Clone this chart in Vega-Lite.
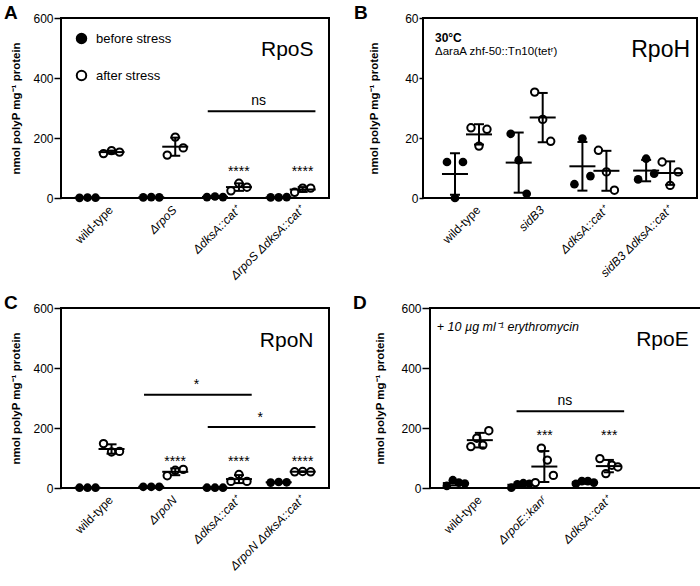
{
"$schema": "https://vega.github.io/schema/vega-lite/v6.json",
"padding": {"left": 3, "top": 2, "right": 0, "bottom": 0},
"datasets": {
"A": [
{"g":"wild-type","c":"before","r":1,"v":0.5},{"g":"wild-type","c":"before","r":2,"v":1.5},{"g":"wild-type","c":"before","r":3,"v":1},
{"g":"wild-type","c":"after","r":1,"v":148},{"g":"wild-type","c":"after","r":2,"v":158},{"g":"wild-type","c":"after","r":3,"v":153},
{"g":"ΔrpoS","c":"before","r":1,"v":2},{"g":"ΔrpoS","c":"before","r":2,"v":3},{"g":"ΔrpoS","c":"before","r":3,"v":2},
{"g":"ΔrpoS","c":"after","r":1,"v":143},{"g":"ΔrpoS","c":"after","r":2,"v":203},{"g":"ΔrpoS","c":"after","r":3,"v":167},
{"g":"ΔdksA::cat⁺","c":"before","r":1,"v":3},{"g":"ΔdksA::cat⁺","c":"before","r":2,"v":5},{"g":"ΔdksA::cat⁺","c":"before","r":3,"v":3},
{"g":"ΔdksA::cat⁺","c":"after","r":1,"v":24},{"g":"ΔdksA::cat⁺","c":"after","r":2,"v":49},{"g":"ΔdksA::cat⁺","c":"after","r":3,"v":36},
{"g":"ΔrpoS ΔdksA::cat⁺","c":"before","r":1,"v":2},{"g":"ΔrpoS ΔdksA::cat⁺","c":"before","r":2,"v":2},{"g":"ΔrpoS ΔdksA::cat⁺","c":"before","r":3,"v":3},
{"g":"ΔrpoS ΔdksA::cat⁺","c":"after","r":1,"v":19},{"g":"ΔrpoS ΔdksA::cat⁺","c":"after","r":2,"v":33},{"g":"ΔrpoS ΔdksA::cat⁺","c":"after","r":3,"v":33}
],
"B": [
{"g":"wild-type","c":"before","r":1,"v":12},{"g":"wild-type","c":"before","r":2,"v":0},{"g":"wild-type","c":"before","r":3,"v":12},
{"g":"wild-type","c":"after","r":1,"v":23.4},{"g":"wild-type","c":"after","r":2,"v":17.3},{"g":"wild-type","c":"after","r":3,"v":22.9},
{"g":"sidB3","c":"before","r":1,"v":21.4},{"g":"sidB3","c":"before","r":2,"v":12.6},{"g":"sidB3","c":"before","r":3,"v":1.4},
{"g":"sidB3","c":"after","r":1,"v":35.3},{"g":"sidB3","c":"after","r":2,"v":26.2},{"g":"sidB3","c":"after","r":3,"v":18.9},
{"g":"ΔdksA::cat⁺","c":"before","r":1,"v":4.6},{"g":"ΔdksA::cat⁺","c":"before","r":2,"v":19.8},{"g":"ΔdksA::cat⁺","c":"before","r":3,"v":7.3},
{"g":"ΔdksA::cat⁺","c":"after","r":1,"v":15.9},{"g":"ΔdksA::cat⁺","c":"after","r":2,"v":8.7},{"g":"ΔdksA::cat⁺","c":"after","r":3,"v":2.6},
{"g":"sidB3 ΔdksA::cat⁺","c":"before","r":1,"v":6.2},{"g":"sidB3 ΔdksA::cat⁺","c":"before","r":2,"v":13.1},{"g":"sidB3 ΔdksA::cat⁺","c":"before","r":3,"v":8.1},
{"g":"sidB3 ΔdksA::cat⁺","c":"after","r":1,"v":12},{"g":"sidB3 ΔdksA::cat⁺","c":"after","r":2,"v":4.2},{"g":"sidB3 ΔdksA::cat⁺","c":"after","r":3,"v":8.7}
],
"C": [
{"g":"wild-type","c":"before","r":1,"v":1},{"g":"wild-type","c":"before","r":2,"v":1},{"g":"wild-type","c":"before","r":3,"v":1},
{"g":"wild-type","c":"after","r":1,"v":148},{"g":"wild-type","c":"after","r":2,"v":120},{"g":"wild-type","c":"after","r":3,"v":122},
{"g":"ΔrpoN","c":"before","r":1,"v":4},{"g":"ΔrpoN","c":"before","r":2,"v":4},{"g":"ΔrpoN","c":"before","r":3,"v":4},
{"g":"ΔrpoN","c":"after","r":1,"v":41},{"g":"ΔrpoN","c":"after","r":2,"v":59},{"g":"ΔrpoN","c":"after","r":3,"v":62},
{"g":"ΔdksA::cat⁺","c":"before","r":1,"v":1},{"g":"ΔdksA::cat⁺","c":"before","r":2,"v":1},{"g":"ΔdksA::cat⁺","c":"before","r":3,"v":1},
{"g":"ΔdksA::cat⁺","c":"after","r":1,"v":22},{"g":"ΔdksA::cat⁺","c":"after","r":2,"v":45},{"g":"ΔdksA::cat⁺","c":"after","r":3,"v":22},
{"g":"ΔrpoN ΔdksA::cat⁺","c":"before","r":1,"v":18},{"g":"ΔrpoN ΔdksA::cat⁺","c":"before","r":2,"v":20},{"g":"ΔrpoN ΔdksA::cat⁺","c":"before","r":3,"v":19},
{"g":"ΔrpoN ΔdksA::cat⁺","c":"after","r":1,"v":54},{"g":"ΔrpoN ΔdksA::cat⁺","c":"after","r":2,"v":55},{"g":"ΔrpoN ΔdksA::cat⁺","c":"after","r":3,"v":54}
],
"D": [
{"g":"wild-type","c":"before","r":1,"v":7},{"g":"wild-type","c":"before","r":2,"v":26},{"g":"wild-type","c":"before","r":3,"v":18},{"g":"wild-type","c":"before","r":4,"v":15},
{"g":"wild-type","c":"after","r":1,"v":138},{"g":"wild-type","c":"after","r":2,"v":166},{"g":"wild-type","c":"after","r":3,"v":143},{"g":"wild-type","c":"after","r":4,"v":191},
{"g":"ΔrpoE::kanʳ","c":"before","r":1,"v":1},{"g":"ΔrpoE::kanʳ","c":"before","r":2,"v":12},{"g":"ΔrpoE::kanʳ","c":"before","r":3,"v":16},{"g":"ΔrpoE::kanʳ","c":"before","r":4,"v":14},
{"g":"ΔrpoE::kanʳ","c":"after","r":1,"v":18},{"g":"ΔrpoE::kanʳ","c":"after","r":2,"v":133},{"g":"ΔrpoE::kanʳ","c":"after","r":3,"v":93},{"g":"ΔrpoE::kanʳ","c":"after","r":4,"v":42},
{"g":"ΔdksA::cat⁺","c":"before","r":1,"v":14},{"g":"ΔdksA::cat⁺","c":"before","r":2,"v":23},{"g":"ΔdksA::cat⁺","c":"before","r":3,"v":23},{"g":"ΔdksA::cat⁺","c":"before","r":4,"v":18},
{"g":"ΔdksA::cat⁺","c":"after","r":1,"v":98},{"g":"ΔdksA::cat⁺","c":"after","r":2,"v":48},{"g":"ΔdksA::cat⁺","c":"after","r":3,"v":76},{"g":"ΔdksA::cat⁺","c":"after","r":4,"v":70}
]
},
"spacing": 9,
"vconcat": [
{"spacing": 23, "hconcat": [
{
"width": 268, "height": 180,
"title": {"text": "A", "anchor": "start", "frame": "bounds", "fontSize": 19, "fontWeight": "bold", "offset": -10.5, "dx": -6},
"resolve": {"scale": {"xOffset": "independent"}},
"layer": [
{"data": {"name": "A"}, "transform": [{"filter": "datum.c == 'before'"}],
 "mark": {"type": "circle", "size": 75, "opacity": 1},
 "encoding": {
  "x": {"field": "g", "type": "nominal", "title": null, "sort": null, "scale": {"domain": ["wild-type","ΔrpoS","ΔdksA::cat⁺","ΔrpoS ΔdksA::cat⁺"], "paddingInner": 0.25, "paddingOuter": 0.228, "align": 0.5},
   "axis": {"labelAngle": -45, "ticks": false, "domain": false, "labelFontSize": 12, "labelColor": "black", "labelPadding": 6, "labelOffset": 8, "labelFontStyle": {"expr": "datum.value == 'wild-type' ? 'normal' : 'italic'"}}},
  "xOffset": {"field": "r", "type": "nominal", "scale": {"domain": [1,2,3], "range": [0, 24]}},
  "y": {"field": "v", "type": "quantitative", "title": "nmol polyP mg⁻¹ protein", "scale": {"domain": [0, 600], "nice": false},
   "axis": {"values": [0,200,400,600], "tickSize": 7, "tickWidth": 1.5, "tickColor": "black", "domain": false, "grid": false, "labelFontSize": 12, "labelColor": "black", "labelPadding": 1, "titleFontSize": 11.5, "titleFontWeight": "bold", "titleColor": "black", "titleX": -45, "titleBaseline": "middle"}},
  "fill": {"field": "c", "type": "nominal", "scale": {"domain": ["before","after"], "range": ["black","white"]},
   "legend": {"title": null, "orient": "top-left", "offset": 14, "padding": 0, "symbolType": "circle", "symbolSize": 90, "symbolStrokeColor": "black", "symbolStrokeWidth": 2, "symbolOpacity": 1, "labelFontSize": 13, "labelColor": "black", "labelOffset": 8, "rowPadding": 18, "labelExpr": "datum.label + ' stress'"}}
 }},
{"data": {"name": "A"}, "transform": [{"filter": "datum.c == 'after'"}],
 "mark": {"type": "circle", "size": 55, "opacity": 1, "stroke": "black", "strokeWidth": 2},
 "encoding": {
  "x": {"field": "g", "type": "nominal", "title": null},
  "xOffset": {"field": "r", "type": "nominal", "scale": {"domain": [1,2,3], "range": [24, 48]}},
  "y": {"field": "v", "type": "quantitative", "title": "nmol polyP mg⁻¹ protein"},
  "fill": {"field": "c", "type": "nominal"}
 }},
{"data": {"name": "A"},
 "mark": {"type": "errorbar", "extent": "stdev", "color": "black", "ticks": {"size": 10, "thickness": 2, "opacity": 1}, "rule": {"strokeWidth": 2}},
 "encoding": {
  "x": {"field": "g", "type": "nominal", "title": null},
  "xOffset": {"field": "c", "type": "nominal", "scale": {"domain": ["before","after"], "range": [0, 48]}},
  "y": {"field": "v", "type": "quantitative", "title": "nmol polyP mg⁻¹ protein"}
 }},
{"data": {"name": "A"},
 "mark": {"type": "tick", "size": 26, "thickness": 2, "color": "black", "opacity": 1},
 "encoding": {
  "x": {"field": "g", "type": "nominal", "title": null},
  "xOffset": {"field": "c", "type": "nominal", "scale": {"domain": ["before","after"], "range": [0, 48]}},
  "y": {"aggregate": "mean", "field": "v", "type": "quantitative", "title": "nmol polyP mg⁻¹ protein"}
 }},
{"data": {"values": [{"g1": "ΔdksA::cat⁺", "g2": "ΔrpoS ΔdksA::cat⁺", "y": 289}]},
 "mark": {"type": "rule", "strokeWidth": 2, "color": "black"},
 "encoding": {"x": {"field": "g1", "type": "nominal", "bandPosition": 0.1, "title": null}, "x2": {"field": "g2", "bandPosition": 1.02}, "y": {"field": "y", "type": "quantitative", "title": "nmol polyP mg⁻¹ protein"}}},
{"data": {"values": [{"g": "ΔdksA::cat⁺", "y": 325, "t": "ns"}]},
 "mark": {"type": "text", "fontSize": 14, "color": "black"},
 "encoding": {"x": {"field": "g", "type": "nominal", "bandPosition": 1.163, "title": null}, "y": {"field": "y", "type": "quantitative", "title": "nmol polyP mg⁻¹ protein"}, "text": {"field": "t"}}},
{"data": {"values": [{"g": "ΔdksA::cat⁺", "y": 88, "t": "****"}, {"g": "ΔrpoS ΔdksA::cat⁺", "y": 88, "t": "****"}]},
 "mark": {"type": "text", "fontSize": 14, "color": "black"},
 "encoding": {"x": {"field": "g", "type": "nominal", "bandPosition": 0.75, "title": null}, "y": {"field": "y", "type": "quantitative", "title": "nmol polyP mg⁻¹ protein"}, "text": {"field": "t"}}},
{"data": {"values": [{"g": "ΔrpoS ΔdksA::cat⁺", "y": 494, "t": "RpoS"}]},
 "mark": {"type": "text", "fontSize": 21, "color": "black", "align": "right"},
 "encoding": {"x": {"field": "g", "type": "nominal", "bandPosition": 0.98, "title": null}, "y": {"field": "y", "type": "quantitative", "title": "nmol polyP mg⁻¹ protein"}, "text": {"field": "t"}}}
]
},
{
"width": 274, "height": 180,
"title": {"text": "B", "anchor": "start", "frame": "bounds", "fontSize": 19, "fontWeight": "bold", "offset": -10.5, "dx": -14},
"resolve": {"scale": {"xOffset": "independent"}},
"layer": [
{"data": {"name": "B"}, "transform": [{"filter": "datum.c == 'before'"}],
 "mark": {"type": "circle", "size": 75, "opacity": 1},
 "encoding": {
  "x": {"field": "g", "type": "nominal", "title": null, "sort": null, "scale": {"domain": ["wild-type","sidB3","ΔdksA::cat⁺","sidB3 ΔdksA::cat⁺"], "paddingInner": 0.25, "paddingOuter": 0.275, "align": 0.57},
   "axis": {"labelAngle": -45, "ticks": false, "domain": false, "labelFontSize": 12, "labelColor": "black", "labelPadding": 6, "labelOffset": 8, "labelFontStyle": {"expr": "datum.value == 'wild-type' ? 'normal' : 'italic'"}}},
  "xOffset": {"field": "r", "type": "nominal", "scale": {"domain": [1,2,3], "range": [0, 24]}},
  "y": {"field": "v", "type": "quantitative", "title": "nmol polyP mg⁻¹ protein", "scale": {"domain": [0, 60], "nice": false},
   "axis": {"values": [0,20,40,60], "tickSize": 4, "tickWidth": 1.5, "tickColor": "black", "domain": false, "grid": false, "labelFontSize": 12, "labelColor": "black", "labelPadding": 1, "titleFontSize": 11.5, "titleFontWeight": "bold", "titleColor": "black", "titleX": -49, "titleBaseline": "middle"}},
  "fill": {"field": "c", "type": "nominal", "scale": {"domain": ["before","after"], "range": ["black","white"]}, "legend": null}
 }},
{"data": {"name": "B"}, "transform": [{"filter": "datum.c == 'after'"}],
 "mark": {"type": "circle", "size": 55, "opacity": 1, "stroke": "black", "strokeWidth": 2},
 "encoding": {
  "x": {"field": "g", "type": "nominal", "title": null},
  "xOffset": {"field": "r", "type": "nominal", "scale": {"domain": [1,2,3], "range": [24, 48]}},
  "y": {"field": "v", "type": "quantitative", "title": "nmol polyP mg⁻¹ protein"},
  "fill": {"field": "c", "type": "nominal"}
 }},
{"data": {"name": "B"},
 "mark": {"type": "errorbar", "extent": "stdev", "color": "black", "ticks": {"size": 10, "thickness": 2, "opacity": 1}, "rule": {"strokeWidth": 2}},
 "encoding": {
  "x": {"field": "g", "type": "nominal", "title": null},
  "xOffset": {"field": "c", "type": "nominal", "scale": {"domain": ["before","after"], "range": [0, 48]}},
  "y": {"field": "v", "type": "quantitative", "title": "nmol polyP mg⁻¹ protein"}
 }},
{"data": {"name": "B"},
 "mark": {"type": "tick", "size": 26, "thickness": 2, "color": "black", "opacity": 1},
 "encoding": {
  "x": {"field": "g", "type": "nominal", "title": null},
  "xOffset": {"field": "c", "type": "nominal", "scale": {"domain": ["before","after"], "range": [0, 48]}},
  "y": {"aggregate": "mean", "field": "v", "type": "quantitative", "title": "nmol polyP mg⁻¹ protein"}
 }},
{"data": {"values": [{"g": "sidB3 ΔdksA::cat⁺", "y": 49.3, "t": "RpoH"}]},
 "mark": {"type": "text", "fontSize": 23, "color": "black", "align": "right"},
 "encoding": {"x": {"field": "g", "type": "nominal", "bandPosition": 1.17, "title": null}, "y": {"field": "y", "type": "quantitative", "title": "nmol polyP mg⁻¹ protein"}, "text": {"field": "t"}}},
{"data": {"values": [{"g": "wild-type", "y": 53.3, "t": "30°C"}]},
 "mark": {"type": "text", "fontSize": 12, "fontWeight": "bold", "color": "black", "align": "left", "dx": -8},
 "encoding": {"x": {"field": "g", "type": "nominal", "bandPosition": 0, "title": null}, "y": {"field": "y", "type": "quantitative", "title": "nmol polyP mg⁻¹ protein"}, "text": {"field": "t"}}},
{"data": {"values": [{"g": "wild-type", "y": 48.7, "t": "ΔaraA zhf-50::Tn10(tetʳ)"}]},
 "mark": {"type": "text", "fontSize": 11.5, "color": "black", "align": "left", "dx": -8},
 "encoding": {"x": {"field": "g", "type": "nominal", "bandPosition": 0, "title": null}, "y": {"field": "y", "type": "quantitative", "title": "nmol polyP mg⁻¹ protein"}, "text": {"field": "t"}}}
]
}
]},
{"spacing": 21, "hconcat": [
{
"width": 268, "height": 180,
"title": {"text": "C", "anchor": "start", "frame": "bounds", "fontSize": 19, "fontWeight": "bold", "offset": -10.5, "dx": -6},
"resolve": {"scale": {"xOffset": "independent"}},
"layer": [
{"data": {"name": "C"}, "transform": [{"filter": "datum.c == 'before'"}],
 "mark": {"type": "circle", "size": 75, "opacity": 1},
 "encoding": {
  "x": {"field": "g", "type": "nominal", "title": null, "sort": null, "scale": {"domain": ["wild-type","ΔrpoN","ΔdksA::cat⁺","ΔrpoN ΔdksA::cat⁺"], "paddingInner": 0.25, "paddingOuter": 0.228, "align": 0.5},
   "axis": {"labelAngle": -45, "ticks": false, "domain": false, "labelFontSize": 12, "labelColor": "black", "labelPadding": 6, "labelOffset": 8, "labelFontStyle": {"expr": "datum.value == 'wild-type' ? 'normal' : 'italic'"}}},
  "xOffset": {"field": "r", "type": "nominal", "scale": {"domain": [1,2,3], "range": [0, 24]}},
  "y": {"field": "v", "type": "quantitative", "title": "nmol polyP mg⁻¹ protein", "scale": {"domain": [0, 600], "nice": false},
   "axis": {"values": [0,200,400,600], "tickSize": 7, "tickWidth": 1.5, "tickColor": "black", "domain": false, "grid": false, "labelFontSize": 12, "labelColor": "black", "labelPadding": 1, "titleFontSize": 11.5, "titleFontWeight": "bold", "titleColor": "black", "titleX": -45, "titleBaseline": "middle"}},
  "fill": {"field": "c", "type": "nominal", "scale": {"domain": ["before","after"], "range": ["black","white"]}, "legend": null}
 }},
{"data": {"name": "C"}, "transform": [{"filter": "datum.c == 'after'"}],
 "mark": {"type": "circle", "size": 55, "opacity": 1, "stroke": "black", "strokeWidth": 2},
 "encoding": {
  "x": {"field": "g", "type": "nominal", "title": null},
  "xOffset": {"field": "r", "type": "nominal", "scale": {"domain": [1,2,3], "range": [24, 48]}},
  "y": {"field": "v", "type": "quantitative", "title": "nmol polyP mg⁻¹ protein"},
  "fill": {"field": "c", "type": "nominal"}
 }},
{"data": {"name": "C"},
 "mark": {"type": "errorbar", "extent": "stdev", "color": "black", "ticks": {"size": 10, "thickness": 2, "opacity": 1}, "rule": {"strokeWidth": 2}},
 "encoding": {
  "x": {"field": "g", "type": "nominal", "title": null},
  "xOffset": {"field": "c", "type": "nominal", "scale": {"domain": ["before","after"], "range": [0, 48]}},
  "y": {"field": "v", "type": "quantitative", "title": "nmol polyP mg⁻¹ protein"}
 }},
{"data": {"name": "C"},
 "mark": {"type": "tick", "size": 26, "thickness": 2, "color": "black", "opacity": 1},
 "encoding": {
  "x": {"field": "g", "type": "nominal", "title": null},
  "xOffset": {"field": "c", "type": "nominal", "scale": {"domain": ["before","after"], "range": [0, 48]}},
  "y": {"aggregate": "mean", "field": "v", "type": "quantitative", "title": "nmol polyP mg⁻¹ protein"}
 }},
{"data": {"values": [{"g1": "ΔrpoN", "g2": "ΔdksA::cat⁺", "y": 311}, {"g1": "ΔdksA::cat⁺", "g2": "ΔrpoN ΔdksA::cat⁺", "y": 203}]},
 "mark": {"type": "rule", "strokeWidth": 2, "color": "black"},
 "encoding": {"x": {"field": "g1", "type": "nominal", "bandPosition": 0.1, "title": null}, "x2": {"field": "g2", "bandPosition": 1.02}, "y": {"field": "y", "type": "quantitative", "title": "nmol polyP mg⁻¹ protein"}}},
{"data": {"values": [{"g": "ΔrpoN", "y": 342, "t": "*"}, {"g": "ΔdksA::cat⁺", "y": 235, "t": "*"}]},
 "mark": {"type": "text", "fontSize": 14, "color": "black"},
 "encoding": {"x": {"field": "g", "type": "nominal", "bandPosition": 1.2, "title": null}, "y": {"field": "y", "type": "quantitative", "title": "nmol polyP mg⁻¹ protein"}, "text": {"field": "t"}}},
{"data": {"values": [{"g": "ΔrpoN", "y": 87, "t": "****"}, {"g": "ΔdksA::cat⁺", "y": 87, "t": "****"}, {"g": "ΔrpoN ΔdksA::cat⁺", "y": 87, "t": "****"}]},
 "mark": {"type": "text", "fontSize": 14, "color": "black"},
 "encoding": {"x": {"field": "g", "type": "nominal", "bandPosition": 0.75, "title": null}, "y": {"field": "y", "type": "quantitative", "title": "nmol polyP mg⁻¹ protein"}, "text": {"field": "t"}}},
{"data": {"values": [{"g": "ΔrpoN ΔdksA::cat⁺", "y": 489, "t": "RpoN"}]},
 "mark": {"type": "text", "fontSize": 21, "color": "black", "align": "right"},
 "encoding": {"x": {"field": "g", "type": "nominal", "bandPosition": 0.98, "title": null}, "y": {"field": "y", "type": "quantitative", "title": "nmol polyP mg⁻¹ protein"}, "text": {"field": "t"}}}
]
},
{
"width": 272, "height": 180,
"title": {"text": "D", "anchor": "start", "frame": "bounds", "fontSize": 19, "fontWeight": "bold", "offset": -10.5, "dx": -21},
"resolve": {"scale": {"xOffset": "independent"}},
"layer": [
{"data": {"name": "D"}, "transform": [{"filter": "datum.c == 'before'"}],
 "mark": {"type": "circle", "size": 75, "opacity": 1},
 "encoding": {
  "x": {"field": "g", "type": "nominal", "title": null, "sort": null, "scale": {"domain": ["wild-type","ΔrpoE::kanʳ","ΔdksA::cat⁺"," "], "paddingInner": 0.25, "paddingOuter": 0.233, "align": 0.46},
   "axis": {"labelAngle": -45, "ticks": false, "domain": false, "labelFontSize": 12, "labelColor": "black", "labelPadding": 6, "labelOffset": 8, "labelFontStyle": {"expr": "datum.value == 'wild-type' ? 'normal' : 'italic'"}}},
  "xOffset": {"field": "r", "type": "nominal", "scale": {"domain": [1,2,3,4], "range": [0, 24]}},
  "y": {"field": "v", "type": "quantitative", "title": "nmol polyP mg⁻¹ protein", "scale": {"domain": [0, 600], "nice": false},
   "axis": {"values": [0,200,400,600], "tickSize": 8, "tickWidth": 1.5, "tickColor": "black", "domain": false, "grid": false, "labelFontSize": 12, "labelColor": "black", "labelPadding": 1, "titleFontSize": 11.5, "titleFontWeight": "bold", "titleColor": "black", "titleX": -50, "titleBaseline": "middle"}},
  "fill": {"field": "c", "type": "nominal", "scale": {"domain": ["before","after"], "range": ["black","white"]}, "legend": null}
 }},
{"data": {"name": "D"}, "transform": [{"filter": "datum.c == 'after'"}],
 "mark": {"type": "circle", "size": 55, "opacity": 1, "stroke": "black", "strokeWidth": 2},
 "encoding": {
  "x": {"field": "g", "type": "nominal", "title": null},
  "xOffset": {"field": "r", "type": "nominal", "scale": {"domain": [1,2,3,4], "range": [24, 48]}},
  "y": {"field": "v", "type": "quantitative", "title": "nmol polyP mg⁻¹ protein"},
  "fill": {"field": "c", "type": "nominal"}
 }},
{"data": {"name": "D"},
 "mark": {"type": "errorbar", "extent": "stdev", "color": "black", "ticks": {"size": 10, "thickness": 2, "opacity": 1}, "rule": {"strokeWidth": 2}},
 "encoding": {
  "x": {"field": "g", "type": "nominal", "title": null},
  "xOffset": {"field": "c", "type": "nominal", "scale": {"domain": ["before","after"], "range": [0, 48]}},
  "y": {"field": "v", "type": "quantitative", "title": "nmol polyP mg⁻¹ protein"}
 }},
{"data": {"name": "D"},
 "mark": {"type": "tick", "size": 26, "thickness": 2, "color": "black", "opacity": 1},
 "encoding": {
  "x": {"field": "g", "type": "nominal", "title": null},
  "xOffset": {"field": "c", "type": "nominal", "scale": {"domain": ["before","after"], "range": [0, 48]}},
  "y": {"aggregate": "mean", "field": "v", "type": "quantitative", "title": "nmol polyP mg⁻¹ protein"}
 }},
{"data": {"values": [{"g1": "ΔrpoE::kanʳ", "g2": "ΔdksA::cat⁺", "y": 256}]},
 "mark": {"type": "rule", "strokeWidth": 2, "color": "black"},
 "encoding": {"x": {"field": "g1", "type": "nominal", "bandPosition": 0.17, "title": null}, "x2": {"field": "g2", "bandPosition": 1.06}, "y": {"field": "y", "type": "quantitative", "title": "nmol polyP mg⁻¹ protein"}}},
{"data": {"values": [{"g": "ΔrpoE::kanʳ", "y": 290, "t": "ns"}]},
 "mark": {"type": "text", "fontSize": 14, "color": "black"},
 "encoding": {"x": {"field": "g", "type": "nominal", "bandPosition": 1.167, "title": null}, "y": {"field": "y", "type": "quantitative", "title": "nmol polyP mg⁻¹ protein"}, "text": {"field": "t"}}},
{"data": {"values": [{"g": "ΔrpoE::kanʳ", "y": 173, "t": "***"}, {"g": "ΔdksA::cat⁺", "y": 173, "t": "***"}]},
 "mark": {"type": "text", "fontSize": 14, "color": "black"},
 "encoding": {"x": {"field": "g", "type": "nominal", "bandPosition": 0.75, "title": null}, "y": {"field": "y", "type": "quantitative", "title": "nmol polyP mg⁻¹ protein"}, "text": {"field": "t"}}},
{"data": {"values": [{"g": " ", "y": 493, "t": "RpoE"}]},
 "mark": {"type": "text", "fontSize": 21, "color": "black", "align": "right"},
 "encoding": {"x": {"field": "g", "type": "nominal", "bandPosition": 1.06, "title": null}, "y": {"field": "y", "type": "quantitative", "title": "nmol polyP mg⁻¹ protein"}, "text": {"field": "t"}}},
{"data": {"values": [{"g": "wild-type", "y": 536, "t": "+ 10 µg ml⁻¹ erythromycin"}]},
 "mark": {"type": "text", "fontSize": 12.5, "fontStyle": "italic", "color": "black", "align": "left", "dx": -7},
 "encoding": {"x": {"field": "g", "type": "nominal", "bandPosition": 0, "title": null}, "y": {"field": "y", "type": "quantitative", "title": "nmol polyP mg⁻¹ protein"}, "text": {"field": "t"}}}
]
}
]}
],
"config": {"font": "Liberation Sans", "view": {"stroke": "black", "strokeWidth": 2}}
}
